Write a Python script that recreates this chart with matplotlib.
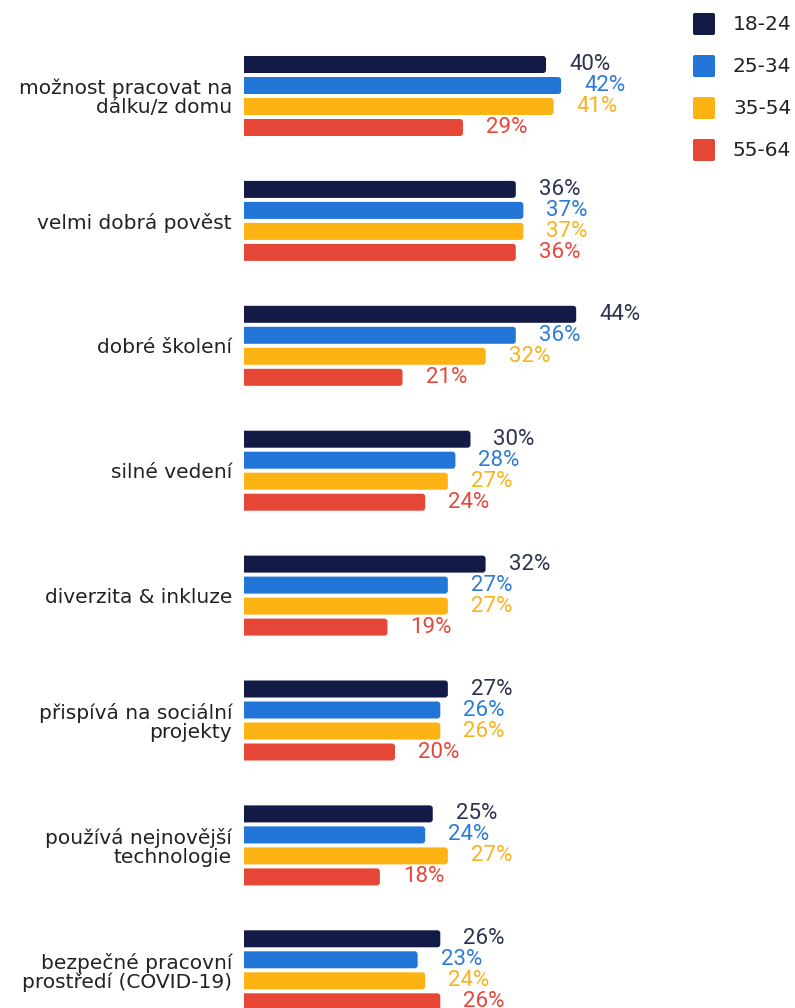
import numpy as np
import matplotlib.pyplot as plt
from matplotlib.patches import FancyBboxPatch, BoxStyle

categories = [
    'možnost pracovat na\ndálku/z domu',
    'velmi dobrá pověst',
    'dobré školení',
    'silné vedení',
    'diverzita & inkluze',
    'přispívá na sociální\nprojekty',
    'používá nejnovější\ntechnologie',
    'bezpečné pracovní\nprostředí (COVID-19)',
]
age_groups = ['18-24', '25-34', '35-54', '55-64']
v_18_24 = [40, 36, 44, 30, 32, 27, 25, 26]
v_25_34 = [42, 37, 36, 28, 27, 26, 24, 23]
v_35_54 = [41, 37, 32, 27, 27, 26, 27, 24]
v_55_64 = [29, 36, 21, 24, 19, 20, 18, 26]
series = [v_18_24, v_25_34, v_35_54, v_55_64]

bar_colors = ['#121a45', '#2276d8', '#fdb314', '#e64636']
text_colors = ['#2d3250', '#2f7bd8', '#f8b320', '#e2493a']

W, H = 795, 1008
x0 = 244          # left edge of the bars, px
px_pct = 7.55     # px per percent
group_px = 124.9  # px between category groups
first_c = 96      # centre of first group, px

fig = plt.figure(figsize=(W / 100, H / 100), dpi=100)
ax = fig.add_axes([x0 / W, 0, (W - x0) / W, 1])
ax.set_xlim(0, (W - x0) / px_pct)
ax.set_ylim((H - first_c) / group_px, -first_c / group_px)

offsets = np.array([-31.5, -10.5, 10.5, 31.5]) / group_px
bar_h = 17 / group_px
r_x = 3 / px_pct
aspect = (3 / group_px) / r_x

for s, vals in enumerate(series):
    for i, v in enumerate(vals):
        y = i + offsets[s] - bar_h / 2
        # box starts left of zero so the axes clip leaves a square left end
        ax.add_patch(FancyBboxPatch((-1, y), v + 1, bar_h,
                                    boxstyle=BoxStyle.Round(pad=0, rounding_size=r_x),
                                    mutation_aspect=aspect,
                                    fc=bar_colors[s], ec='none'))
        ax.text(v + 23 / px_pct, i + offsets[s], f'{v}%', ha='left', va='center',
                fontsize=16, family='Roboto', color=text_colors[s])

ax.set_yticks(range(len(categories)))
ax.set_yticklabels(categories, fontsize=14.5, color='#222222', linespacing=1.0)
ax.tick_params(axis='y', length=0, pad=8.6)
ax.set_xticks([])
ax.spines[:].set_visible(False)

# legend in the top right corner
for k, (lab, col) in enumerate(zip(age_groups, bar_colors)):
    cy = 24 + 42 * k
    fig.add_artist(FancyBboxPatch((693 / W, 1 - (cy + 11) / H), 22 / W, 22 / H,
                                  boxstyle=BoxStyle.Round(pad=0, rounding_size=2 / W),
                                  mutation_aspect=W / H,
                                  transform=fig.transFigure, fc=col, ec='none'))
    fig.text(733 / W, 1 - cy / H, lab, ha='left', va='center',
             fontsize=14.5, color='#222222')

fig.savefig('out.png', dpi=100)
